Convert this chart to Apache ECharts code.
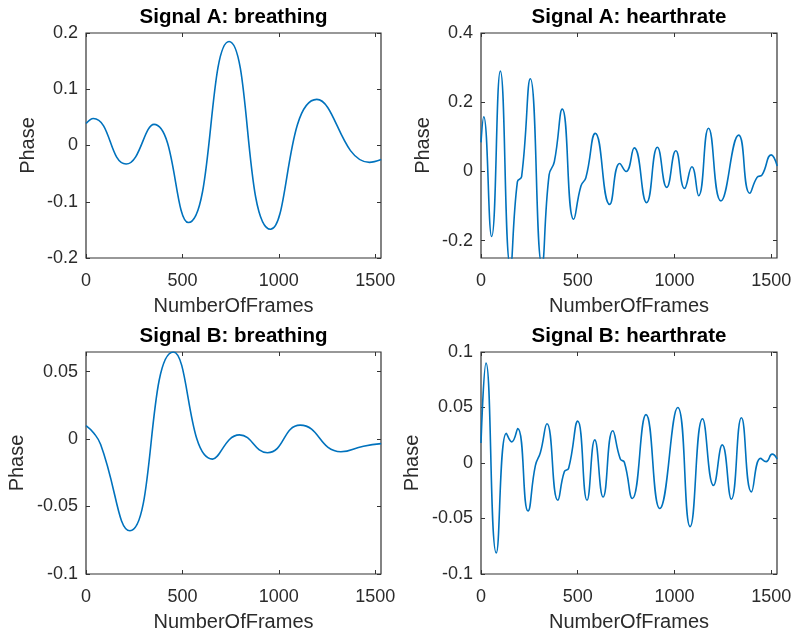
<!DOCTYPE html>
<html><head><meta charset="utf-8">
<script src="https://cdn.jsdelivr.net/npm/echarts@6/dist/echarts.min.js"></script>
<style>html,body{margin:0;padding:0;background:#fff}#c{width:795px;height:633px}</style>
</head><body><div id="c"></div>
<script>
// ---- data ----
const panelTitles = ['Signal A: breathing', 'Signal A: hearthrate', 'Signal B: breathing', 'Signal B: hearthrate'];
const xLabel = 'NumberOfFrames';
const yLabel = 'Phase';
const xTickValues = [0, 500, 1000, 1500];
const xMin = 0, xMax = 1530;

const aBreathFrames = [0, 38, 208, 353, 531, 742, 957, 1197, 1470, 1531];
const aBreathPhase  = [0.039, 0.048, -0.033, 0.0376, -0.137, 0.185, -0.149, 0.082, -0.030, -0.025];
const aBreathYTicks = [-0.2, -0.1, 0, 0.1, 0.2];
const aBreathYRange = [-0.2, 0.2];

const aHeartFrames = [0, 14, 55, 100, 152, 188, 210, 255, 315, 352, 379, 420, 479, 517, 542, 591, 665, 717, 750, 792, 856, 912, 960, 1007, 1052, 1090, 1125, 1176, 1240, 1332, 1389, 1427, 1453, 1500, 1531];
const aHeartPhase  = [0.084, 0.158, -0.188, 0.29, -0.275, -0.03, -0.015, 0.268, -0.27, -0.01, 0.028, 0.18, -0.138, -0.041, -0.018, 0.11, -0.095, 0.023, 0.0, 0.068, -0.09, 0.07, -0.046, 0.06, -0.049, 0.0135, -0.07, 0.125, -0.085, 0.105, -0.063, -0.017, -0.01, 0.048, 0.016];
const aHeartYTicks = [-0.2, 0, 0.2, 0.4];
const aHeartYRange = [-0.25, 0.4];

const bBreathFrames = [0, 41, 76, 228, 453, 656, 796, 941, 1111, 1322, 1439, 1531];
const bBreathPhase  = [0.0100, 0.0043, -0.0041, -0.068, 0.0645, -0.0149, 0.0031, -0.0101, 0.0103, -0.0094, -0.0053, -0.0034];
const bBreathYTicks = [-0.1, -0.05, 0, 0.05];
const bBreathYRange = [-0.1, 0.0645];

const bHeartFrames = [0, 26, 79, 131, 159, 190, 243, 281, 307, 341, 397, 431, 453, 500, 548, 588, 631, 681, 720, 741, 782, 853, 924, 1017, 1081, 1145, 1202, 1247, 1294, 1346, 1398, 1445, 1474, 1505, 1531];
const bHeartPhase  = [0.018, 0.090, -0.081, 0.0267, 0.019, 0.031, -0.0433, -0.0024, 0.0095, 0.0353, -0.0335, -0.0077, -0.0047, 0.0377, -0.0335, 0.0208, -0.0306, 0.029, 0.0036, 0.0006, -0.032, 0.0436, -0.041, 0.050, -0.0573, 0.0398, -0.0202, 0.0163, -0.0326, 0.0407, -0.026, 0.0042, 0.0012, 0.008, 0.0036];
const bHeartYTicks = [-0.1, -0.05, 0, 0.05, 0.1];
const bHeartYRange = [-0.1, 0.1];

// ---- layout / style ----
const grids = [
  {left: 86, top: 33, width: 295, height: 225, nameGap: 48},
  {left: 481, top: 33, width: 296, height: 225, nameGap: 48},
  {left: 86, top: 352, width: 295, height: 225, nameGap: 59},
  {left: 481, top: 352, width: 296, height: 225, nameGap: 59}
];
const panels = [
  {fx: aBreathFrames, fy: aBreathPhase, ticks: aBreathYTicks, range: aBreathYRange},
  {fx: aHeartFrames, fy: aHeartPhase, ticks: aHeartYTicks, range: aHeartYRange},
  {fx: bBreathFrames, fy: bBreathPhase, ticks: bBreathYTicks, range: bBreathYRange},
  {fx: bHeartFrames, fy: bHeartPhase, ticks: bHeartYTicks, range: bHeartYRange}
];
const FONT = '"Liberation Sans", Arial, Helvetica, sans-serif';
const AX = '#2b2b2b';
const LINE = '#0072BD';
const TICK_FS = 18, NAME_FS = 20, TITLE_FS = 20.5;

const option = {
  backgroundColor: '#ffffff',
  animation: false,
  grid: [], xAxis: [], yAxis: [], series: [], graphic: []
};

grids.forEach((g, i) => {
  const p = panels[i];
  option.grid.push({left: g.left, top: g.top, width: g.width, height: g.height,
    show: true, borderColor: '#333', borderWidth: 1.2, backgroundColor: '#fff', containLabel: false});
  const tickStyle = {show: true, inside: true, length: 4, lineStyle: {color: '#333', width: 1}};
  // bottom x
  option.xAxis.push({type: 'value', gridIndex: i, position: 'bottom', min: xMin, max: xMax,
    axisLine: {show: false, onZero: false}, splitLine: {show: false},
    axisTick: Object.assign({customValues: xTickValues}, tickStyle),
    axisLabel: {customValues: xTickValues, color: AX, fontSize: TICK_FS, fontFamily: FONT, margin: 14,
      formatter: v => String(v)},
    name: xLabel, nameLocation: 'middle', nameGap: 38,
    nameTextStyle: {color: AX, fontSize: NAME_FS, fontFamily: FONT}});
  // top x (ticks only)
  option.xAxis.push({type: 'value', gridIndex: i, position: 'top', min: xMin, max: xMax,
    axisLine: {show: false, onZero: false}, splitLine: {show: false},
    axisTick: Object.assign({customValues: xTickValues}, tickStyle),
    axisLabel: {show: false}});
  // left y
  option.yAxis.push({type: 'value', gridIndex: i, position: 'left', min: p.range[0], max: p.range[1],
    axisLine: {show: false, onZero: false}, splitLine: {show: false},
    axisTick: Object.assign({customValues: p.ticks}, tickStyle),
    axisLabel: {customValues: p.ticks, color: AX, fontSize: TICK_FS, fontFamily: FONT, margin: 8,
      formatter: v => String(v)},
    name: yLabel, nameLocation: 'middle', nameGap: g.nameGap,
    nameTextStyle: {color: AX, fontSize: NAME_FS, fontFamily: FONT}});
  // right y (ticks only)
  option.yAxis.push({type: 'value', gridIndex: i, position: 'right', min: p.range[0], max: p.range[1],
    axisLine: {show: false, onZero: false}, splitLine: {show: false},
    axisTick: Object.assign({customValues: p.ticks}, tickStyle),
    axisLabel: {show: false}});
  option.series.push({type: 'line', xAxisIndex: 2 * i, yAxisIndex: 2 * i,
    data: p.fx.map((f, k) => [f, p.fy[k]]),
    showSymbol: false, symbol: 'none', smooth: 0.5, clip: true,
    lineStyle: {color: LINE, width: 1.6}});
  option.graphic.push({type: 'text', x: g.left + g.width / 2, y: g.top - 16,
    style: {text: panelTitles[i], fill: '#000', font: 'bold ' + TITLE_FS + 'px ' + FONT,
      textAlign: 'center', textVerticalAlign: 'middle'}});
});

const chart = echarts.init(document.getElementById('c'), null, {renderer: 'canvas'});
chart.setOption(option);
</script>
</body></html>
